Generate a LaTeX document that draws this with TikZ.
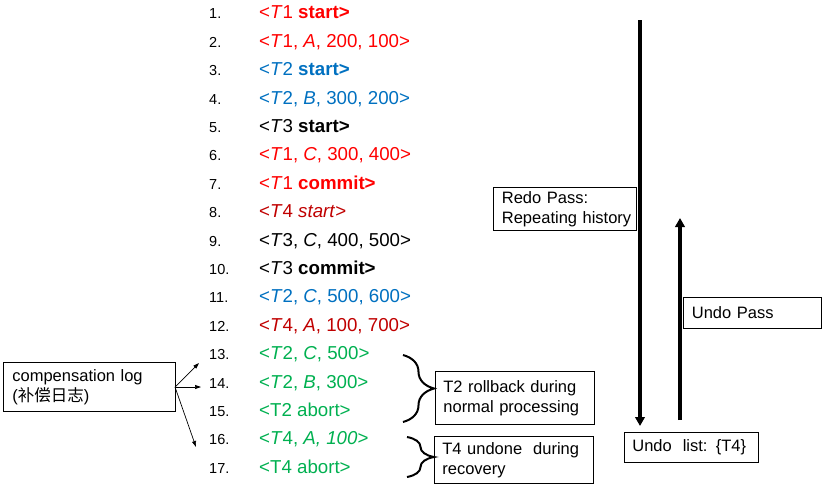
\documentclass[tikz,border=0pt]{standalone}
\usepackage{fontspec}
\setmainfont{Liberation Sans}
\newfontfamily\cjk{Noto Sans CJK SC}
\usetikzlibrary{arrows.meta,decorations.pathreplacing}
\definecolor{tred}{RGB}{255,0,0}
\definecolor{tblue}{RGB}{0,112,192}
\definecolor{tdred}{RGB}{192,0,0}
\definecolor{tgreen}{RGB}{0,176,80}
\hfuzz=20pt
\hbadness=10000
\begin{document}
\begin{tikzpicture}[x=1pt,y=-1pt,
  logtxt/.style={anchor=base west, inner sep=0pt, font=\fontsize{18.7}{20}\selectfont},
  num/.style={anchor=base west, inner sep=0pt, font=\fontsize{14.5}{16}\selectfont},
  box/.style={draw, line width=0.8pt, anchor=north west, align=left, inner xsep=8.5pt, inner ysep=0pt, font=\fontsize{16.5}{20}\selectfont},
  pass/.style={line width=3.4pt, -{Triangle[width=9.5pt,length=9pt]}},
  thin arrow/.style={line width=0.7pt, -{Triangle[width=4pt,length=6pt]}},
  bracebig/.style={line width=2pt, decorate, decoration={brace, amplitude=#1}}
]
\useasboundingbox (0,0) rectangle (838,485);
% row numbers and log records
\foreach \i in {1,...,17}{
  \node[num] (n\i) at (209,{18.8+28.4*(\i-1)}) {\i.};
}
\node[logtxt, text=tred]   (r1)  at (259,18.8)  {<\textit{T}1 \textbf{start>}};
\node[logtxt, text=tred]   (r2)  at (259,47.2)  {<\textit{T}1, \textit{A}, 200, 100>};
\node[logtxt, text=tblue]  (r3)  at (259,75.6)  {<\textit{T}2 \textbf{start>}};
\node[logtxt, text=tblue]  (r4)  at (259,104.0) {<\textit{T}2, \textit{B}, 300, 200>};
\node[logtxt, text=black]  (r5)  at (259,132.4) {<\textit{T}3 \textbf{start>}};
\node[logtxt, text=tred]   (r6)  at (259,160.8) {<\textit{T}1, \textit{C}, 300, 400>};
\node[logtxt, text=tred]   (r7)  at (259,189.2) {<\textit{T}1 \textbf{commit>}};
\node[logtxt, text=tdred]  (r8)  at (259,217.6) {<\textit{T}4 \textit{start}>};
\node[logtxt, text=black]  (r9)  at (259,246.0) {<\textit{T}3, \textit{C}, 400, 500>};
\node[logtxt, text=black]  (r10) at (259,274.4) {<\textit{T}3 \textbf{commit>}};
\node[logtxt, text=tblue]  (r11) at (259,302.8) {<\textit{T}2, \textit{C}, 500, 600>};
\node[logtxt, text=tdred]  (r12) at (259,331.2) {<\textit{T}4, \textit{A}, 100, 700>};
\node[logtxt, text=tgreen] (r13) at (259,359.6) {<\textit{T}2, \textit{C}, 500>};
\node[logtxt, text=tgreen] (r14) at (259,388.0) {<\textit{T}2, \textit{B}, 300>};
\node[logtxt, text=tgreen] (r15) at (259,416.4) {<T2 abort>};
\node[logtxt, text=tgreen] (r16) at (259,444.8) {<\textit{T}4, \textit{A, 100}>};
\node[logtxt, text=tgreen] (r17) at (259,473.2) {<T4 abort>};
% boxes
\node[box, text width=126pt, minimum height=43pt] (redo) at (493,187) {Redo Pass:\\\mbox{Repeating history}};
\node[box, text width=121pt, minimum height=31pt] (undopass) at (683,297) {Undo Pass};
\node[box, inner xsep=8pt, text width=118pt, minimum height=30pt] (undolist) at (624,432) {Undo\ \ list: \{T4\}};
\node[box, inner xsep=8pt, text width=143pt, minimum height=53pt] (t2rb) at (435,371) {T2 rollback during\\normal processing};
\node[box, inner xsep=8pt, text width=143pt, minimum height=47pt] (t4un) at (434,436) {T4 undone\ \ during\\recovery};
\node[box, inner xsep=9pt, text width=154pt, minimum height=49pt] (comp) at (3,362) {compensation log\\({\cjk 补偿日志})};
% passes
\coordinate (redoTop) at (640,20);
\coordinate (redoEnd) at (640,426);
\coordinate (undoBot) at (680,420);
\coordinate (undoEnd) at (680,218);
\draw[pass] (redoTop) -- (redoEnd);
\draw[pass] (undoBot) -- (undoEnd);
% compensation arrows
\coordinate (cs) at (175,387);
\coordinate (a13) at (199,363);
\coordinate (a14) at (201,387);
\coordinate (a16) at (196,447);
\draw[thin arrow] (cs) -- (a13);
\draw[thin arrow] (cs) -- (a14);
\draw[thin arrow] (cs) -- (a16);
% braces
\coordinate (b1t) at (403,355);
\coordinate (b1b) at (403,422);
\coordinate (b2t) at (407,437);
\coordinate (b2b) at (407,477);
\draw[bracebig=31pt] (b1t) -- (b1b);
\draw[bracebig=27pt] (b2t) -- (b2b);
\end{tikzpicture}
\end{document}
